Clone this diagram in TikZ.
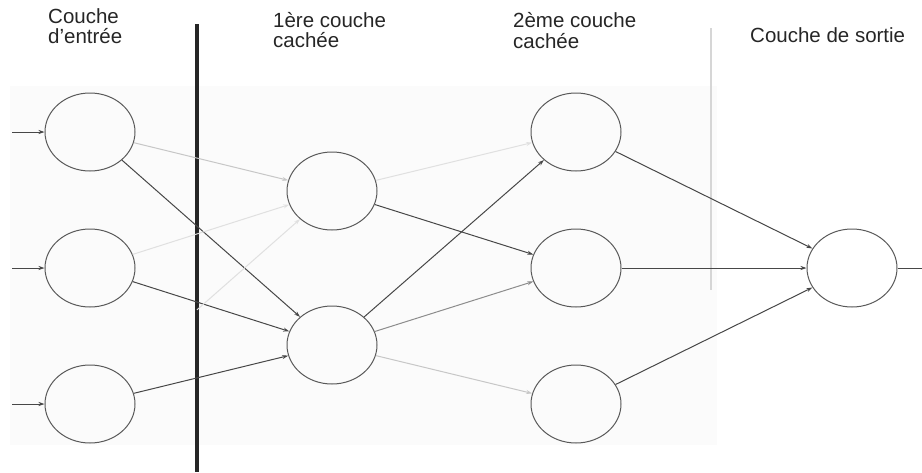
\documentclass[tikz,border=0pt]{standalone}
\usepackage{fontspec}
\setmainfont{Liberation Sans}
\usetikzlibrary{shapes.geometric,arrows.meta}
\begin{document}
\begin{tikzpicture}[x=1pt,y=-1pt,
  neuron/.style={ellipse,draw=black!65,line width=1pt,minimum width=90pt,minimum height=78pt,inner sep=0pt},
  lbl/.style={anchor=base west,inner sep=0pt,font=\fontsize{20.5}{22}\selectfont,text=black!85},
  con/.style={line width=1pt,-{Stealth[length=6pt,width=4pt]}},
  dark/.style={con,draw=black!72},
  mid/.style={con,draw=black!45},
  light/.style={con,draw=black!22},
  faint/.style={con,draw=black!12}]
\useasboundingbox (0,0) rectangle (922,472);
\fill[black!1.5] (10,86) rectangle (717,445);
% separators
\draw[line width=3.5pt,black!85] (197,24) -- (197,472);
\draw[line width=1.8pt,black!16] (711,28) -- (711,290);
% labels
\node[lbl] (t1a) at (48,23) {Couche};
\node[lbl] (t1b) at (48,43) {d'entrée};
\node[lbl] (t2a) at (273,27) {1ère couche};
\node[lbl] (t2b) at (273,47) {cachée};
\node[lbl] (t3a) at (513,27) {2ème couche};
\node[lbl] (t3b) at (513,48) {cachée};
\node[lbl] (t4) at (750,42) {Couche de sortie};
% neurons
\node[neuron] (i1) at (90,132) {};
\node[neuron] (i2) at (90,268) {};
\node[neuron] (i3) at (90,404) {};
\node[neuron] (h1) at (332,191) {};
\node[neuron] (h2) at (332,345) {};
\node[neuron] (g1) at (576,132) {};
\node[neuron] (g2) at (576,268) {};
\node[neuron] (g3) at (576,404) {};
\node[neuron] (o) at (852,268) {};
% inputs
\coordinate (in1) at (12,132);
\coordinate (in2) at (12,268);
\coordinate (in3) at (12,404);
\coordinate (out) at (922,268);
\draw[dark] (in1) -- (i1);
\draw[dark] (in2) -- (i2);
\draw[dark] (in3) -- (i3);
% input -> hidden 1
\draw[light] (i1) -- (h1);
\draw[dark] (i1) -- (h2);
\draw[faint] (i2) -- (h1);
\draw[dark] (i2) -- (h2);
\draw[faint,shorten <=100pt] (i3) -- (h1);
\draw[dark] (i3) -- (h2);
% hidden 1 -> hidden 2
\draw[faint] (h1) -- (g1);
\draw[dark] (h1) -- (g2);
\draw[dark] (h2) -- (g1);
\draw[mid] (h2) -- (g2);
\draw[light] (h2) -- (g3);
% hidden 2 -> output
\draw[dark] (g1) -- (o);
\draw[dark] (g2) -- (o);
\draw[dark] (g3) -- (o);
\draw[line width=1pt,black!72] (o) -- (out);
\end{tikzpicture}
\end{document}
